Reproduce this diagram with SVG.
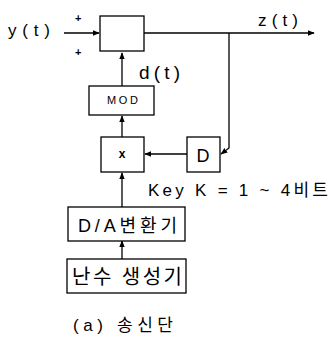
<svg xmlns="http://www.w3.org/2000/svg" width="331" height="339" viewBox="0 0 331 339">
<defs>
<style>
.box{fill:#fff;stroke:#000;stroke-width:1.3}
.ln{fill:none;stroke:#000;stroke-width:1.3}
.t{font-family:"Liberation Sans","Noto Sans CJK KR",sans-serif;fill:#000}
</style>
<marker id="ah" viewBox="0 0 10 10" refX="9" refY="5" markerWidth="7" markerHeight="7" orient="auto" markerUnits="userSpaceOnUse">
<path d="M0,1 L10,5 L0,9 Z" fill="#000"/>
</marker>
</defs>
<rect width="331" height="339" fill="#fff"/>
<g id="connectors">
<line class="ln" x1="64" y1="33" x2="99" y2="33" marker-end="url(#ah)"/>
<line class="ln" x1="144" y1="33" x2="314" y2="33" marker-end="url(#ah)"/>
<line class="ln" x1="122" y1="86" x2="122" y2="53" marker-end="url(#ah)"/>
<line class="ln" x1="122" y1="137" x2="122" y2="116" marker-end="url(#ah)"/>
<polyline class="ln" points="229,33 229,148 221,154" marker-end="url(#ah)"/>
<line class="ln" x1="187" y1="154" x2="145" y2="154" marker-end="url(#ah)"/>
<line class="ln" x1="122" y1="207" x2="122" y2="173" marker-end="url(#ah)"/>
<line class="ln" x1="122" y1="259" x2="122" y2="241" marker-end="url(#ah)"/>
</g>
<g id="input">
<text class="t" x="8" y="36" font-size="17" textLength="42" lengthAdjust="spacing">y(t)</text>
<text class="t" x="75" y="22" font-size="11" font-weight="bold">+</text>
<text class="t" x="75" y="56" font-size="11" font-weight="bold">+</text>
</g>
<g id="sum"><rect class="box" x="100" y="16" width="44" height="35"/></g>
<g id="output"><text class="t" x="258" y="26" font-size="17" textLength="40" lengthAdjust="spacing">z(t)</text></g>
<g id="dt"><text class="t" x="139" y="79" font-size="19" textLength="41" lengthAdjust="spacing">d(t)</text></g>
<g id="mod">
<rect class="box" x="89" y="86" width="65" height="29"/>
<text class="t" x="107" y="104" font-size="11" textLength="31" lengthAdjust="spacing">MOD</text>
</g>
<g id="mult">
<rect class="box" x="101" y="137" width="43" height="35"/>
<text class="t" x="122" y="158" font-size="12" text-anchor="middle" font-weight="bold">x</text>
</g>
<g id="delay">
<rect class="box" x="187" y="137" width="33" height="35"/>
<text class="t" x="203" y="162" font-size="18" text-anchor="middle">D</text>
</g>
<g id="key"><text class="t" x="148" y="196" font-size="17" textLength="180" lengthAdjust="spacing">Key K = 1 ~ 4비트</text></g>
<g id="da">
<rect class="box" x="68" y="207" width="117" height="34"/>
<text class="t" x="78" y="232" font-size="18" textLength="99" lengthAdjust="spacing">D/A변환기</text>
</g>
<g id="rng">
<rect class="box" x="67" y="259" width="119" height="34"/>
<text class="t" x="72" y="284" font-size="20" textLength="110" lengthAdjust="spacing">난수 생성기</text>
</g>
<g id="caption"><text class="t" x="73" y="331" font-size="17" textLength="100" lengthAdjust="spacing">(a) 송신단</text></g>
</svg>
